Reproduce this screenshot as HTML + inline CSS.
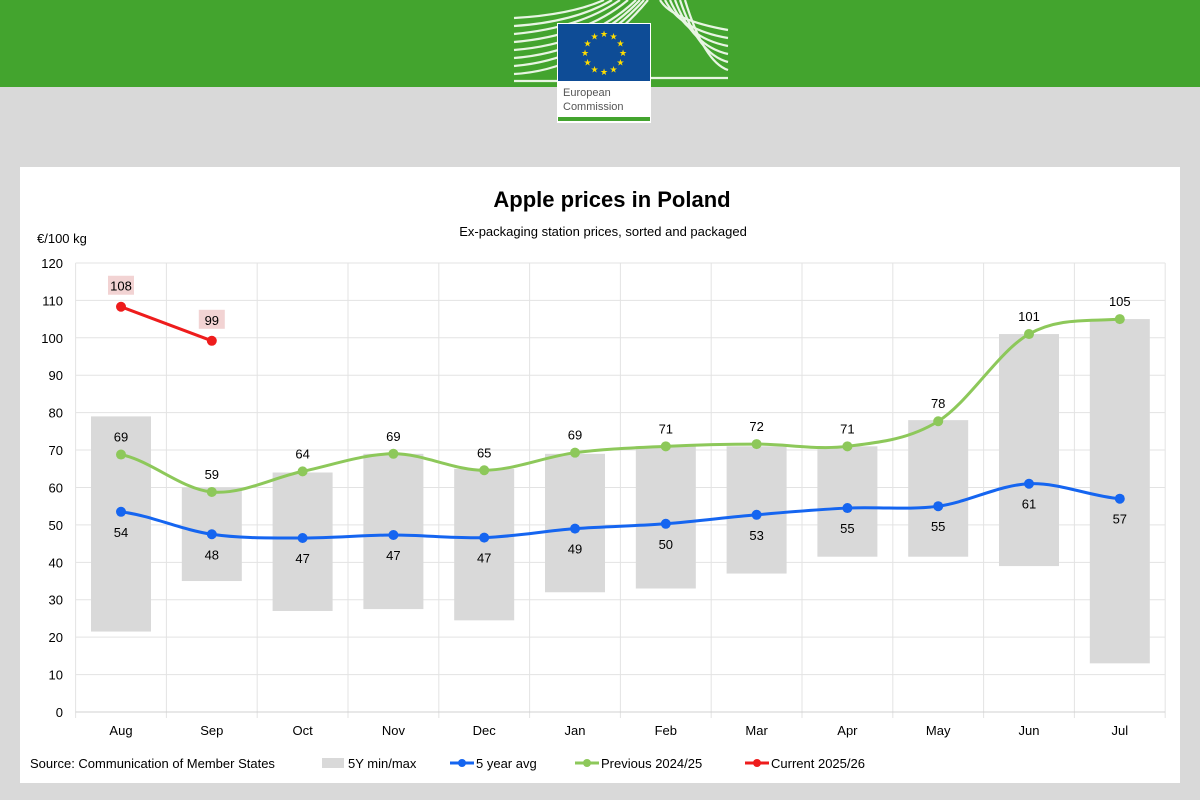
<!DOCTYPE html>
<html><head><meta charset="utf-8"><style>
body{margin:0;width:1200px;height:800px;background:#d9d9d9;font-family:"Liberation Sans",sans-serif;overflow:hidden;position:relative}
</style></head><body>
<svg id="s" width="1200" height="800" xmlns="http://www.w3.org/2000/svg" style="position:absolute;left:0;top:0;font-family:'Liberation Sans',sans-serif">
<rect x="0" y="0" width="1200" height="87" fill="#43a42e"/>
<g stroke="#e8f5e3" stroke-width="2.2" fill="none">
<path d="M514 18 Q570 15 604 0"/><path d="M514 26 Q575 22 612 0"/><path d="M514 34 Q580 28 620 0"/><path d="M514 42 Q585 36 628 0"/><path d="M514 50 Q590 44 636 0"/><path d="M514 58 Q590 52 640 0"/><path d="M514 66 Q590 60 644 0"/><path d="M514 74 Q590 70 648 0"/><path d="M514 81 L557 81"/>
<path d="M665 0 Q680 30 728 38"/><path d="M670 0 Q686 38 728 46"/><path d="M675 0 Q692 46 728 54"/><path d="M680 0 Q698 54 728 62"/><path d="M685 0 Q704 62 728 70"/><path d="M651 78 L728 78"/><path d="M660 0 Q672 20 728 30"/>
</g>
<rect x="557" y="23" width="94" height="100" fill="#fff"/>
<rect x="558" y="24" width="92" height="57" fill="#0e4c96"/>
<g fill="#ffdd00" font-size="9" text-anchor="middle" id="stars"></g>
<text x="563" y="96" font-size="11" fill="#555">European</text>
<text x="563" y="110" font-size="11" fill="#555">Commission</text>
<rect x="558" y="117" width="92" height="4" fill="#43a42e"/>
<rect x="20" y="167" width="1160" height="616" fill="#fff"/>
<text x="612" y="207" font-size="22" font-weight="bold" text-anchor="middle">Apple prices in Poland</text>
<text x="603" y="236" font-size="13" text-anchor="middle">Ex-packaging station prices, sorted and packaged</text>
<text x="37" y="243" font-size="13">€/100 kg</text>
<g id="plot"></g>
<text x="30" y="768" font-size="13">Source: Communication of Member States</text>
<rect x="322" y="758" width="22" height="10" fill="#d9d9d9"/>
<text x="348" y="768" font-size="13">5Y min/max</text>
<line x1="450" y1="763" x2="474" y2="763" stroke="#1565f0" stroke-width="3"/><circle cx="462" cy="763" r="4" fill="#1565f0"/>
<text x="476" y="768" font-size="13">5 year avg</text>
<line x1="575" y1="763" x2="599" y2="763" stroke="#8dc85a" stroke-width="3"/><circle cx="587" cy="763" r="4" fill="#8dc85a"/>
<text x="601" y="768" font-size="13">Previous 2024/25</text>
<line x1="745" y1="763" x2="769" y2="763" stroke="#ee1c1c" stroke-width="3"/><circle cx="757" cy="763" r="4" fill="#ee1c1c"/>
<text x="771" y="768" font-size="13">Current 2025/26</text>
</svg>
<script>
var NS="http://www.w3.org/2000/svg";
function el(p,t,a,txt){var e=document.createElementNS(NS,t);for(var k in a)e.setAttribute(k,a[k]);if(txt!==undefined)e.textContent=txt;p.appendChild(e);return e;}
var st=document.getElementById("stars");
for(var i=0;i<12;i++){var a=i*Math.PI/6;el(st,"text",{x:604+19*Math.sin(a),y:52.5-19*Math.cos(a)+3.5},"★");}
var g=document.getElementById("plot");
var L=75.6,W=90.8,Y0=712,K=3.742;
function X(i){return L+W*i+W/2}function Y(v){return Y0-v*K}
for(var v=0;v<=120;v+=10){el(g,"line",{x1:L,x2:L+12*W,y1:Y(v),y2:Y(v),stroke:"#e3e3e3"});el(g,"text",{x:63,y:Y(v)+5,"font-size":13,"text-anchor":"end"},v);}
for(var i=0;i<=12;i++)el(g,"line",{x1:L+W*i,x2:L+W*i,y1:Y(120),y2:Y0+6,stroke:"#e3e3e3"});
el(g,"line",{x1:L,x2:L+12*W,y1:Y0,y2:Y0,stroke:"#d0d0d0"});
var m=["Aug","Sep","Oct","Nov","Dec","Jan","Feb","Mar","Apr","May","Jun","Jul"];
var mn=[21.5,35,27,27.5,24.5,32,33,37,41.5,41.5,39,13],mx=[79,60,64,69,65,69,71,71,71,78,101,105];
for(var i=0;i<12;i++){el(g,"rect",{x:X(i)-30,y:Y(mx[i]),width:60,height:(mx[i]-mn[i])*K,fill:"#d9d9d9"});el(g,"text",{x:X(i),y:735,"font-size":13,"text-anchor":"middle"},m[i]);}
function path(vals,col){var p="M"+X(0)+" "+Y(vals[0]);for(var i=0;i<vals.length-1;i++){var p0=vals[Math.max(i-1,0)],p1=vals[i],p2=vals[i+1],p3=vals[Math.min(i+2,vals.length-1)];var x1=X(i),x2=X(i+1);p+=" C"+(x1+W/3)+" "+Y(p1+(p2-p0)/6)+" "+(x2-W/3)+" "+Y(p2-(p3-p1)/6)+" "+x2+" "+Y(p2);}el(g,"path",{d:p,fill:"none",stroke:col,"stroke-width":3});vals.forEach(function(v,i){el(g,"circle",{cx:X(i),cy:Y(v),r:5,fill:col});});}
var blue=[53.5,47.5,46.5,47.3,46.6,49,50.3,52.7,54.5,55,61,57],bl=[54,48,47,47,47,49,50,53,55,55,61,57];
var grn=[68.8,58.8,64.3,69,64.6,69.3,71,71.6,71,77.7,101,105],gl=[69,59,64,69,65,69,71,72,71,78,101,105];
path(grn,"#8dc85a");path(blue,"#1565f0");
var red=[108.3,99.2];
el(g,"path",{d:"M"+X(0)+" "+Y(red[0])+" L"+X(1)+" "+Y(red[1]),stroke:"#ee1c1c","stroke-width":3,fill:"none"});
red.forEach(function(v,i){el(g,"circle",{cx:X(i),cy:Y(v),r:5,fill:"#ee1c1c"});el(g,"rect",{x:X(i)-13,y:Y(v)-31,width:26,height:19,fill:"#f2d3d3"});el(g,"text",{x:X(i),y:Y(v)-16,"font-size":13,"text-anchor":"middle"},[108,99][i]);});
for(var i=0;i<12;i++){el(g,"text",{x:X(i),y:Y(grn[i])-13,"font-size":13,"text-anchor":"middle"},gl[i]);el(g,"text",{x:X(i),y:Y(blue[i])+25,"font-size":13,"text-anchor":"middle"},bl[i]);}
</script>
</body></html>
